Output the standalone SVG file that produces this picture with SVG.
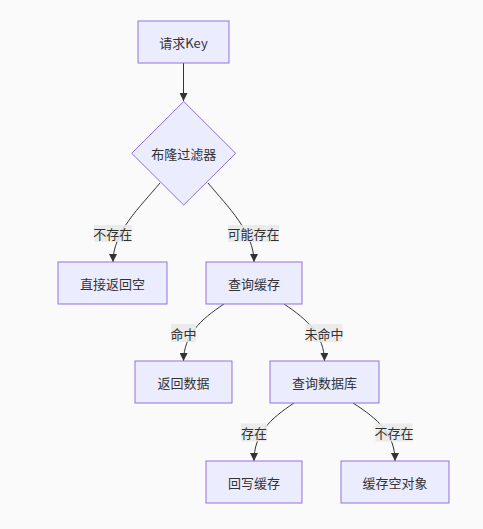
<svg xmlns="http://www.w3.org/2000/svg" width="483" height="529" viewBox="0 0 483 529">
<defs>
<marker id="arr" viewBox="0 0 10 10" refX="10" refY="5" markerWidth="8" markerHeight="8" markerUnits="userSpaceOnUse" orient="auto">
<path d="M0,0 L10,5 L0,10 z" fill="#333"/>
</marker>
</defs>
<style>
.node{fill:#ECECFF;stroke:#9370DB;stroke-width:1}
.edge{fill:none;stroke:#333;stroke-width:1;marker-end:url(#arr)}
.t{font-family:"Noto Sans CJK SC","Liberation Sans",sans-serif;font-size:13px;fill:#333;text-anchor:middle;dominant-baseline:central}
.lb{fill:#E8E8E8;opacity:0.85}
</style>
<rect width="483" height="529" fill="#FAFAFA"/>
<g id="connectors">
<path class="edge" d="M183.5,63 L183.5,101"/>
<path class="edge" d="M160,183 C140,207 113,232 113,262"/>
<path class="edge" d="M208,183 C228,207 254,232 254,262"/>
<path class="edge" d="M224,304 C200,320 184,335 183.5,361"/>
<path class="edge" d="M284,304 C308,320 324,335 324.5,361"/>
<path class="edge" d="M294,403 C270,419 254,434 254,461"/>
<path class="edge" d="M353,403 C378,419 395,434 395,461"/>
</g>
<g id="edge-labels">
<rect class="lb" x="94" y="225" width="37.5" height="17"/><text class="t" x="112.7" y="233.5">不存在</text>
<rect class="lb" x="228" y="225" width="51" height="17"/><text class="t" x="253.5" y="233.5">可能存在</text>
<rect class="lb" x="171" y="324" width="25" height="18"/><text class="t" x="183.5" y="333">命中</text>
<rect class="lb" x="305.5" y="324" width="37" height="18"/><text class="t" x="324" y="333">未命中</text>
<rect class="lb" x="241" y="423.5" width="26" height="18"/><text class="t" x="254" y="432.5">存在</text>
<rect class="lb" x="375.5" y="423.5" width="37" height="18"/><text class="t" x="394" y="432.5">不存在</text>
</g>
<g id="n-request"><rect class="node" x="138" y="21" width="91" height="42"/><text class="t" x="183.5" y="42">请求Key</text></g>
<g id="n-bloom"><polygon class="node" points="183.7,101.5 235.7,153.3 183.7,205 131.7,153.3"/><text class="t" x="183.7" y="153.3">布隆过滤器</text></g>
<g id="n-return-null"><rect class="node" x="58" y="262" width="109" height="42"/><text class="t" x="112.5" y="283">直接返回空</text></g>
<g id="n-query-cache"><rect class="node" x="206" y="262" width="96" height="42"/><text class="t" x="254" y="283">查询缓存</text></g>
<g id="n-return-data"><rect class="node" x="135" y="361" width="97" height="42"/><text class="t" x="183.5" y="382">返回数据</text></g>
<g id="n-query-db"><rect class="node" x="270" y="361" width="109" height="42"/><text class="t" x="324.5" y="382">查询数据库</text></g>
<g id="n-write-cache"><rect class="node" x="206" y="461" width="96" height="42"/><text class="t" x="254" y="482">回写缓存</text></g>
<g id="n-cache-empty"><rect class="node" x="341" y="461" width="108" height="42"/><text class="t" x="395" y="482">缓存空对象</text></g>
</svg>
